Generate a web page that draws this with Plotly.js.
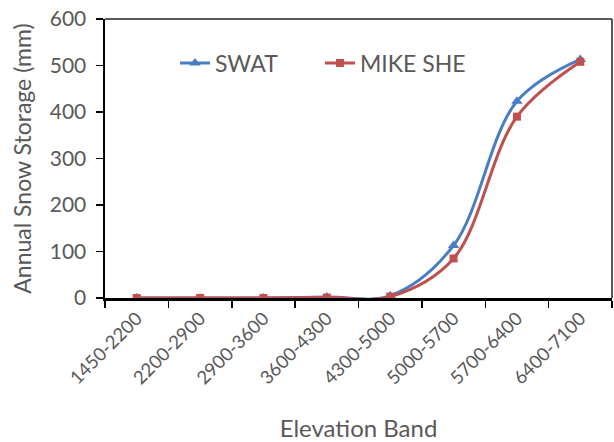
<!DOCTYPE html>
<html>
<head>
<meta charset="utf-8">
<script src="https://cdn.plot.ly/plotly-3.0.1.min.js"></script>
<style>html,body{margin:0;padding:0;background:#fff;}#chart{width:614px;height:442px;}</style>
</head>
<body>
<div id="chart"></div>
<script>
const bands = ["1450-2200","2200-2900","2900-3600","3600-4300","4300-5000","5000-5700","5700-6400","6400-7100"];
const swat = [0, 0, 0, 2, 5, 113, 423, 513];
const mikeShe = [0, 0, 0, 1, 3, 85, 390, 508];
const yTicks = [0, 100, 200, 300, 400, 500, 600];

const FONT = "Lato, 'Open Sans', sans-serif";
const GRAY = "#595959";

const traces = [
  {x: bands, y: swat, name: "SWAT", type: "scatter", mode: "lines+markers", legend: "legend",
   line: {color: "#4A7EC4", width: 3, shape: "spline", smoothing: 1},
   marker: {symbol: "triangle-up", size: 10, color: "#4A7EC4"}},
  {x: bands, y: mikeShe, name: "MIKE SHE", type: "scatter", mode: "lines+markers", legend: "legend2",
   line: {color: "#C0504D", width: 3, shape: "spline", smoothing: 1},
   marker: {symbol: "square", size: 8, color: "#C0504D"}}
];

const legendBase = {orientation: "h", xanchor: "left", yanchor: "middle", y: 0.842,
  font: {size: 23, color: GRAY, family: FONT}, bgcolor: "rgba(0,0,0,0)"};

const layout = {
  width: 614, height: 442,
  margin: {l: 105, r: 2, t: 19, b: 144},
  paper_bgcolor: "#fff", plot_bgcolor: "#fff",
  font: {family: FONT, color: GRAY, size: 21},
  showlegend: true,
  legend: Object.assign({}, legendBase, {x: 0.138}),
  legend2: Object.assign({}, legendBase, {x: 0.424}),
  xaxis: {type: "category", tickangle: -45, showline: true, linecolor: "#000", linewidth: 2.5,
          ticks: "outside", tickson: "boundaries", ticklen: 7, tickcolor: "#000", tickwidth: 1.5,
          showgrid: false, zeroline: false, range: [-0.5, 7.5],
          tickfont: {size: 18.5, color: GRAY, family: FONT},
          title: {text: "Elevation Band", font: {size: 24, color: GRAY, family: FONT}, standoff: 38}},
  yaxis: {range: [0, 600], tickvals: yTicks, ticktext: yTicks.map(String),
          showline: true, linecolor: "#000", linewidth: 2.5,
          ticks: "outside", ticklen: 7, tickcolor: "#000", tickwidth: 1.5,
          ticklabelstandoff: 5,
          showgrid: false, zeroline: false,
          tickfont: {size: 21, color: GRAY, family: FONT},
          title: {text: "Annual Snow Storage (mm)", font: {size: 23, color: GRAY, family: FONT}, standoff: 12}},
  shapes: [
    {type: "line", xref: "paper", yref: "paper", x0: 0, x1: 1, y0: 1, y1: 1, line: {color: "#222", width: 1.5}},
    {type: "line", xref: "paper", yref: "paper", x0: 1, x1: 1, y0: 0, y1: 1, line: {color: "#222", width: 1.5}}
  ]
};

Plotly.newPlot("chart", traces, layout, {displayModeBar: false, staticPlot: true});
</script>
</body>
</html>
